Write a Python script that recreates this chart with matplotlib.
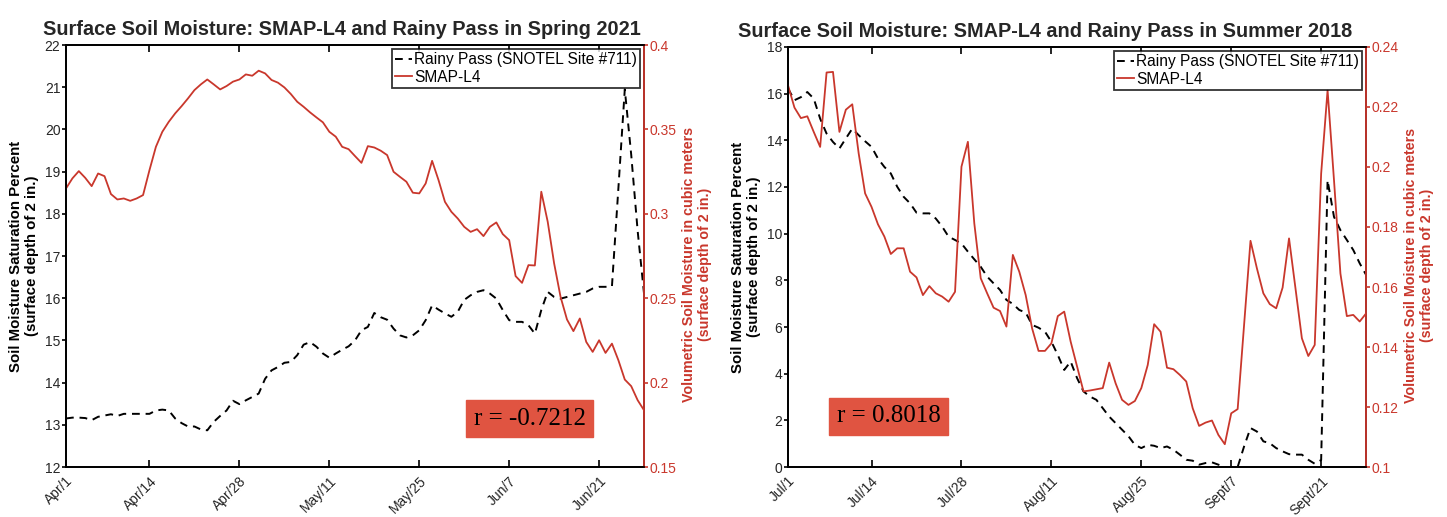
import numpy as np
import matplotlib
matplotlib.use("Agg")
import matplotlib.pyplot as plt
from matplotlib.lines import Line2D
from matplotlib.ticker import FormatStrFormatter

plt.rcParams['font.family'] = ['Liberation Sans', 'DejaVu Sans']

RED = '#C9372C'
GREY = '#262626'

# day index (1 = first day of the season)
days = np.arange(1, 92)

tick_pos = [1, 14, 28, 42, 56, 70, 84]
spring_labels = ['Apr/1', 'Apr/14', 'Apr/28', 'May/11', 'May/25', 'Jun/7', 'Jun/21']
summer_labels = ['Jul/1', 'Jul/14', 'Jul/28', 'Aug/11', 'Aug/25', 'Sept/7', 'Sept/21']

# Spring 2021 - Rainy Pass saturation percent
spring_snotel = [13.15, 13.17, 13.17, 13.16, 13.11, 13.19, 13.22, 13.25, 13.21, 13.26,
                 13.26, 13.26, 13.26, 13.26, 13.34, 13.36, 13.34, 13.15, 13.04, 12.96,
                 12.96, 12.89, 12.87, 13.07, 13.21, 13.34, 13.57, 13.49, 13.58, 13.66,
                 13.74, 14.09, 14.29, 14.37, 14.47, 14.49, 14.65, 14.90, 14.96, 14.85,
                 14.69, 14.59, 14.69, 14.78, 14.86, 15.00, 15.24, 15.32, 15.65, 15.55,
                 15.49, 15.28, 15.12, 15.07, 15.12, 15.24, 15.48, 15.83, 15.73, 15.64,
                 15.56, 15.68, 15.96, 16.07, 16.15, 16.19, 16.11, 15.99, 15.72, 15.48,
                 15.44, 15.44, 15.36, 15.16, 15.72, 16.15, 16.03, 15.99, 16.03, 16.07,
                 16.11, 16.15, 16.23, 16.27, 16.27, 16.28, 18.60, 20.95, 19.40, 17.60,
                 16.10]

# Spring 2021 - SMAP-L4 volumetric soil moisture
spring_smap = [0.3150, 0.3210, 0.3253, 0.3213, 0.3164, 0.3239, 0.3223, 0.3117, 0.3085, 0.3091,
               0.3077, 0.3091, 0.3111, 0.3259, 0.3397, 0.3486, 0.3545, 0.3595, 0.3638, 0.3684,
               0.3733, 0.3767, 0.3796, 0.3767, 0.3737, 0.3757, 0.3783, 0.3796, 0.3826, 0.3818,
               0.3848, 0.3832, 0.3793, 0.3777, 0.3749, 0.3710, 0.3664, 0.3634, 0.3601, 0.3571,
               0.3542, 0.3486, 0.3457, 0.3397, 0.3383, 0.3342, 0.3302, 0.3401, 0.3393, 0.3374,
               0.3348, 0.3249, 0.3219, 0.3190, 0.3125, 0.3121, 0.3180, 0.3314, 0.3200, 0.3071,
               0.3012, 0.2972, 0.2923, 0.2893, 0.2909, 0.2868, 0.2923, 0.2949, 0.2880, 0.2844,
               0.2631, 0.2591, 0.2696, 0.2694, 0.3131, 0.2953, 0.2706, 0.2508, 0.2374, 0.2305,
               0.2380, 0.2241, 0.2182, 0.2251, 0.2176, 0.2231, 0.2133, 0.2018, 0.1979, 0.1896,
               0.1836]

# Summer 2018 - Rainy Pass saturation percent
summer_snotel = [16.22, 15.72, 15.85, 16.07, 15.79, 14.93, 14.29, 13.93, 13.65, 14.08,
                 14.50, 14.22, 13.96, 13.72, 13.22, 12.86, 12.58, 12.01, 11.58, 11.30,
                 10.90, 10.87, 10.87, 10.65, 10.30, 9.87, 9.73, 9.58, 9.23, 8.90,
                 8.58, 8.16, 7.87, 7.59, 7.16, 6.99, 6.73, 6.62, 6.09, 5.97,
                 5.80, 5.37, 4.80, 4.16, 4.52, 3.81, 3.24, 3.02, 2.88, 2.52,
                 2.16, 1.88, 1.60, 1.32, 0.95, 0.81, 0.95, 0.91, 0.81, 0.88,
                 0.74, 0.53, 0.31, 0.27, 0.10, 0.17, 0.20, 0.10, 0.00, 0.00,
                 0.00, 0.88, 1.67, 1.52, 1.10, 1.02, 0.81, 0.67, 0.55, 0.53,
                 0.53, 0.31, 0.14, 0.30, 12.29, 10.72, 10.15, 9.73, 9.30, 8.73,
                 8.23]

# Summer 2018 - SMAP-L4 volumetric soil moisture
summer_smap = [0.2272, 0.2198, 0.2163, 0.2169, 0.2117, 0.2067, 0.2315, 0.2317, 0.2117, 0.2191,
               0.2209, 0.2045, 0.1912, 0.1867, 0.1809, 0.1768, 0.1710, 0.1729, 0.1729, 0.1651,
               0.1632, 0.1573, 0.1603, 0.1579, 0.1568, 0.1551, 0.1584, 0.2001, 0.2084, 0.1812,
               0.1629, 0.1579, 0.1531, 0.1520, 0.1468, 0.1707, 0.1651, 0.1573, 0.1462, 0.1387,
               0.1387, 0.1412, 0.1503, 0.1518, 0.1418, 0.1335, 0.1252, 0.1255, 0.1259, 0.1263,
               0.1348, 0.1279, 0.1224, 0.1207, 0.1220, 0.1263, 0.1340, 0.1476, 0.1451, 0.1331,
               0.1326, 0.1307, 0.1285, 0.1196, 0.1137, 0.1148, 0.1155, 0.1107, 0.1076, 0.1179,
               0.1193, 0.1473, 0.1754, 0.1662, 0.1579, 0.1543, 0.1529, 0.1598, 0.1762, 0.1596,
               0.1429, 0.1370, 0.1407, 0.1978, 0.2256, 0.1956, 0.1645, 0.1503, 0.1507, 0.1485,
               0.1512]


def panel(fig, rect, snotel, smap, labels, ylim_l, yticks_l, ylim_r, yticks_r,
          title, title_x, rtext, rxy):
    ax = fig.add_axes(rect)
    ax.plot(days, snotel, color='k', lw=1.4, ls=(0, (4, 3)))
    ax.set_xlim(1, 91)
    ax.set_ylim(*ylim_l)
    ax.set_yticks(yticks_l)
    ax.set_xticks(tick_pos)
    ax.set_xticklabels(labels, rotation=45, ha='right', rotation_mode='anchor')
    ax.tick_params(axis='x', direction='in', top=True, length=5, width=1.2,
                   labelsize=10, colors='k', labelcolor=GREY, pad=5)
    ax.tick_params(axis='y', direction='out', length=3, width=1.2,
                   labelsize=10, colors='k', labelcolor=GREY, pad=1)
    for s in ax.spines.values():
        s.set_linewidth(1.3)
    ax.set_ylabel('Soil Moisture Saturation Percent\n(surface depth of 2 in.)',
                  fontsize=10.8, fontweight='bold', color='k', linespacing=1.2)
    ax.yaxis.set_label_coords(-0.047, 0.5)
    ax.set_title(title, fontsize=14.3, fontweight='bold', color=GREY, x=title_x, pad=7)

    ax2 = ax.twinx()
    ax2.plot(days, smap, color=RED, lw=1.3)
    ax2.set_ylim(*ylim_r)
    ax2.set_yticks(yticks_r)
    ax2.yaxis.set_major_formatter(FormatStrFormatter('%g'))
    ax2.tick_params(axis='y', direction='out', length=3, width=1.2,
                    labelsize=10, colors=RED, pad=1)
    ax2.spines['right'].set_color(RED)
    for s in ax2.spines.values():
        s.set_linewidth(1.3)
    ax2.set_ylabel('Volumetric Soil Moisture in cubic meters\n(surface depth of 2 in.)',
                   fontsize=10.3, fontweight='bold', color=RED, linespacing=1.2)
    ax2.yaxis.set_label_coords(1.066, 0.48)

    handles = [Line2D([], [], color='k', lw=1.4, ls=(0, (4, 3))),
               Line2D([], [], color=RED, lw=1.3)]
    leg = ax2.legend(handles, ['Rainy Pass (SNOTEL Site #711)', 'SMAP-L4'],
                     loc='upper right', fontsize=11.2, frameon=True, fancybox=False,
                     handlelength=1.1, handletextpad=0.15, labelspacing=0.18,
                     borderpad=0.2, borderaxespad=0.25)
    leg.get_frame().set_edgecolor('k')
    leg.get_frame().set_linewidth(1.3)

    ax2.text(rxy[0], rxy[1], rtext, transform=ax2.transAxes, ha='center', va='center',
             fontsize=18, family=['Liberation Serif', 'DejaVu Serif'], color='k',
             bbox=dict(boxstyle='square,pad=0.3', fc='#E05441', ec='#E05441'))
    return ax, ax2


fig = plt.figure(figsize=(14.47, 5.17), dpi=100)

panel(fig, [0.0456, 0.0967, 0.3995, 0.8162], spring_snotel, spring_smap, spring_labels,
      (12, 22), range(12, 23), (0.15, 0.4), [0.15, 0.2, 0.25, 0.3, 0.35, 0.4],
      'Surface Soil Moisture: SMAP-L4 and Rainy Pass in Spring 2021', 0.478,
      'r = -0.7212', (0.802, 0.114))

panel(fig, [0.5446, 0.0967, 0.3995, 0.8124], summer_snotel, summer_smap, summer_labels,
      (0, 18), range(0, 19, 2), (0.1, 0.24), [0.1, 0.12, 0.14, 0.16, 0.18, 0.2, 0.22, 0.24],
      'Surface Soil Moisture: SMAP-L4 and Rainy Pass in Summer 2018', 0.445,
      'r = 0.8018', (0.174, 0.121))

fig.savefig('out.png', dpi=100)
